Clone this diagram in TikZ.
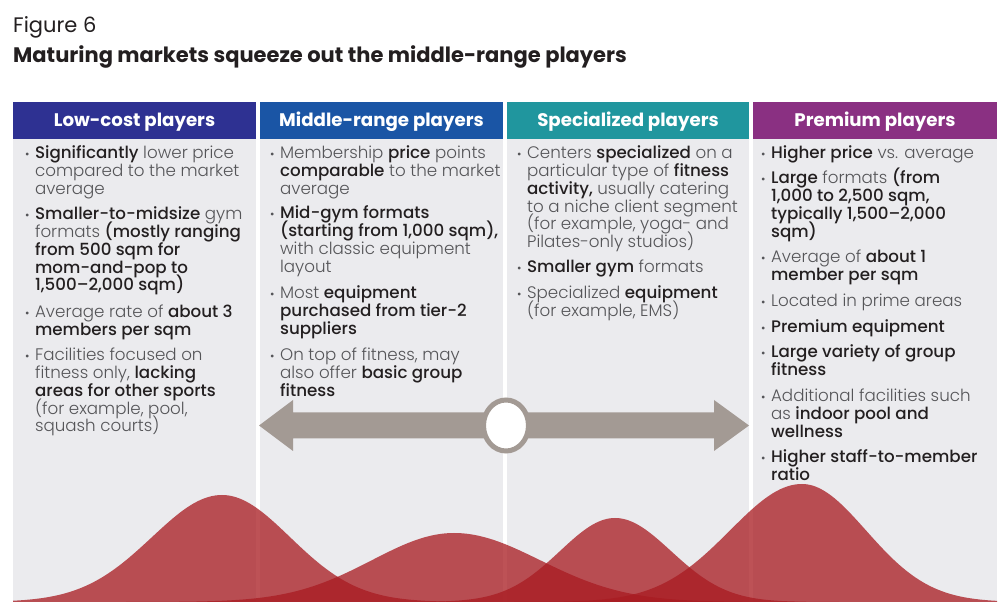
\documentclass[tikz,border=0pt]{standalone}
\usepackage{fontspec}
\setmainfont{Poppins}
\newfontfamily\lightf{Poppins Light}
\newfontfamily\medf{Poppins Medium}
\newfontfamily\boldf{Poppins Bold}
\usetikzlibrary{shapes.geometric}
\definecolor{lowc}{RGB}{46,49,146}
\definecolor{midc}{RGB}{26,85,165}
\definecolor{spec}{RGB}{32,150,158}
\definecolor{prem}{RGB}{138,48,130}
\definecolor{bodybg}{RGB}{235,235,238}
\definecolor{arrowc}{RGB}{163,154,148}
\definecolor{curvec}{RGB}{169,28,34}
\definecolor{txtlight}{RGB}{85,85,88}
\definecolor{txtdark}{RGB}{35,31,32}
\newcommand\hb[1]{{\medf\color{txtdark}#1}}
\newcommand\bul{{\fontsize{12}{12}\selectfont\textbullet}}
\newcommand\li[1]{\hbox{#1}}
\newcommand\itm[1]{\hbox{\bul\hspace{5.5pt}\vtop{\baselineskip=17.7pt\lineskiplimit=-30pt\lineskip=0pt #1}}}
\tikzset{
  hdr/.style={inner sep=0pt, minimum height=37pt, text height=13pt, text depth=0pt, text=white, font=\boldf\fontsize{18.2}{20}\selectfont},
  body/.style={inner sep=0pt, anchor=base west, text=txtlight, font=\lightf\fontsize{16.7}{17.7}\selectfont},
  curvefill/.style={fill=curvec, fill opacity=0.76},
}
\begin{document}
\begin{tikzpicture}[x=1pt,y=-1pt]
\useasboundingbox (0,0) rectangle (1005,609);
\fill[white] (0,0) rectangle (1005,609);
% titles
\node[inner sep=0pt, anchor=base west, text=txtdark, font=\fontsize{21}{24}\selectfont] (fig) at (13,33) {Figure 6};
\node[inner sep=0pt, anchor=base west, text=txtdark, font=\boldf\fontsize{21}{24}\selectfont] (title) at (13,63) {Maturing markets squeeze out the middle-range players};
% column bodies
\fill[bodybg] (13,139) rectangle (256,602);
\fill[bodybg] (260,139) rectangle (503,602);
\fill[bodybg] (507,139) rectangle (749,602);
\fill[bodybg] (753,139) rectangle (997,602);
% headers
\node[hdr, fill=lowc, minimum width=243pt] (h1) at (134.5,120.5) {Low-cost players};
\node[hdr, fill=midc, minimum width=243pt] (h2) at (381.5,120.5) {Middle-range players};
\node[hdr, fill=spec, minimum width=242pt] (h3) at (628,120.5) {Specialized players};
\node[hdr, fill=prem, minimum width=244pt] (h4) at (875,120.5) {Premium players};
% column 1
\node[body] (l1) at (25,159) {\itm{\li{\hb{Significantly} lower price}\li{compared to the market}\li{average}}};
\node[body] (l2) at (25,220) {\itm{\li{\hb{Smaller-to-midsize} gym}\li{formats \hb{(mostly ranging}}\li{\hb{from 500 sqm for}}\li{\hb{mom-and-pop to}}\li{\hb{1,500–2,000 sqm)}}}};
\node[body] (l3) at (25,318) {\itm{\li{Average rate of \hb{about 3}}\li{\hb{members per sqm}}}};
\node[body] (l4) at (25,361) {\itm{\li{Facilities focused on}\li{fitness only, \hb{lacking}}\li{\hb{areas for other sports}}\li{(for example, pool,}\li{squash courts)}}};
% column 2
\node[body] (m1) at (270,159) {\itm{\li{Membership \hb{price} points}\li{\hb{comparable} to the market}\li{average}}};
\node[body] (m2) at (270,219) {\itm{\li{\hb{Mid-gym formats}}\li{\hb{(starting from 1,000 sqm),}}\li{with classic equipment}\li{layout}}};
\node[body] (m3) at (270,299) {\itm{\li{Most \hb{equipment}}\li{\hb{purchased from tier-2}}\li{\hb{suppliers}}}};
\node[body] (m4) at (270,361) {\itm{\li{On top of fitness, may}\li{also offer \hb{basic group}}\li{\hb{fitness}}}};
% column 3
\node[body] (s1) at (517,159) {\itm{\li{Centers \hb{specialized} on a}\li{particular type of \hb{fitness}}\li{\hb{activity,} usually catering}\li{to a niche client segment}\li{(for example, yoga- and}\li{Pilates-only studios)}}};
\node[body] (s2) at (517,273) {\itm{\li{\hb{Smaller gym} formats}}};
\node[body] (s3) at (517,299) {\itm{\li{Specialized \hb{equipment}}\li{(for example, EMS)}}};
% column 4
\node[body] (p1) at (761,159) {\itm{\li{\hb{Higher price} vs. average}}};
\node[body] (p2) at (761,184) {\itm{\li{\hb{Large} formats \hb{(from}}\li{\hb{1,000 to 2,500 sqm,}}\li{\hb{typically 1,500–2,000}}\li{\hb{sqm)}}}};
\node[body] (p3) at (761,263) {\itm{\li{Average of \hb{about 1}}\li{\hb{member per sqm}}}};
\node[body] (p4) at (761,307) {\itm{\li{Located in prime areas}}};
\node[body] (p5) at (761,333) {\itm{\li{\hb{Premium equipment}}}};
\node[body] (p6) at (761,358) {\itm{\li{\hb{Large variety of group}}\li{\hb{fitness}}}};
\node[body] (p7) at (761,402) {\itm{\li{Additional facilities such}\li{as \hb{indoor pool and}}\li{\hb{wellness}}}};
\node[body] (p8) at (761,463) {\itm{\li{\hb{Higher staff-to-member}}\li{\hb{ratio}}}};
% double arrow
\coordinate (ltip) at (259,425.5);
\coordinate (rtip) at (749,425.5);
\fill[arrowc] (ltip) -- (293,400) -- (293,412.5) -- (714,412.5) -- (714,400) -- (rtip) -- (714,451) -- (714,438.5) -- (293,438.5) -- (293,451) -- cycle;
\node[ellipse, draw=arrowc, line width=5pt, fill=white, minimum width=45pt, minimum height=51pt, inner sep=0pt] (hub) at (506,425.5) {};
% distribution curves
\begin{scope}
\clip (13,0) rectangle (997,602);
\foreach \mu/\h/\sl/\sr in {222/107/70/68, 454/69/82/86, 615/84/55/56, 802/118/72/64} {
  \pgfmathsetmacro\lo{\mu-4*\sl}
  \pgfmathsetmacro\hi{\mu+4*\sr}
  \fill[curvefill] (\lo,602)
    -- plot[domain=\lo:\mu, samples=80] (\x,{602-\h*exp(-0.5*((\x-\mu)/\sl)*((\x-\mu)/\sl))})
    -- plot[domain=\mu:\hi, samples=80] (\x,{602-\h*exp(-0.5*((\x-\mu)/\sr)*((\x-\mu)/\sr))})
    -- (\hi,602) -- cycle;
}
\end{scope}
\end{tikzpicture}
\end{document}
